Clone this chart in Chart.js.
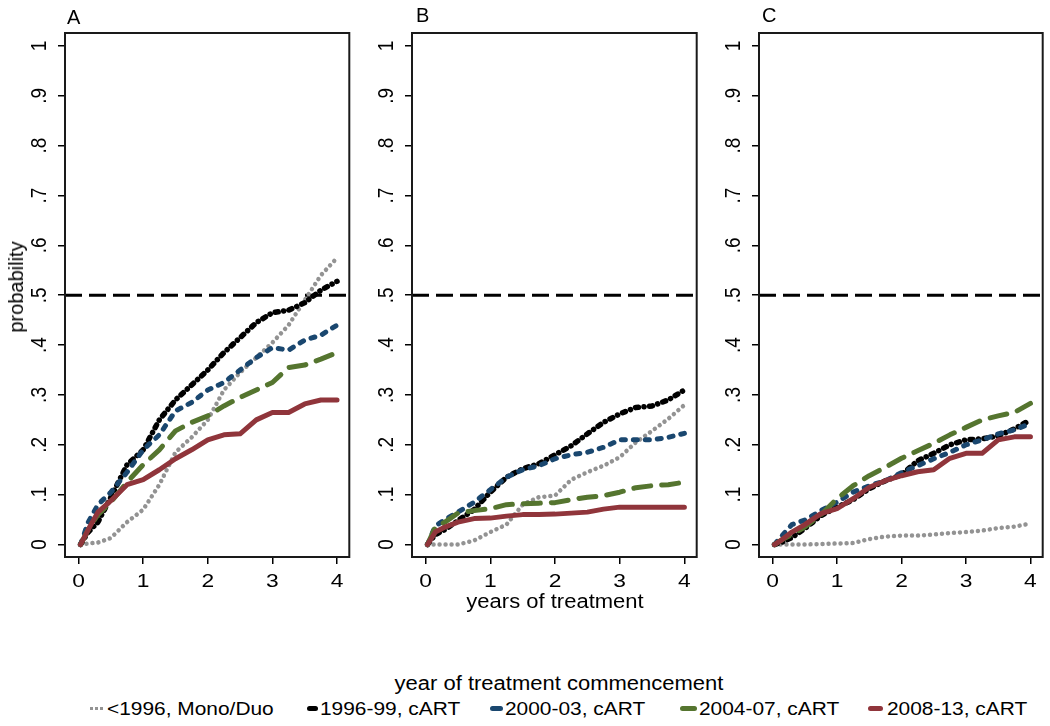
<!DOCTYPE html>
<html lang="en">
<head>
<meta charset="UTF-8">
<title>Cumulative probability by year of treatment commencement</title>
<script src="https://cdn.jsdelivr.net/npm/chart.js"></script>
<style>
  body { margin: 0; background: #fff; font-family: "Liberation Sans", Arial, sans-serif; color: #000; }
  #page { position: relative; width: 1050px; height: 726px; overflow: hidden; }
  #page canvas { position: absolute; top: 0; }
  .txt { position: absolute; white-space: nowrap; line-height: 1; }
  .panel { font-size: 20px; }
  .axt { font-size: 20px; transform: translateX(-50%) scaleX(1.1); }
  .leg { font-size: 19px; transform-origin: left center; transform: scaleX(1.1); }
  .sym { position: absolute; height: 5px; border-radius: 3px; }
</style>
</head>
<body>
<div id="page">
  <canvas id="chartA" width="352" height="620" style="left:3px"></canvas>
  <canvas id="chartB" width="352" height="620" style="left:350px"></canvas>
  <canvas id="chartC" width="352" height="620" style="left:697px"></canvas>

  <div class="txt panel" style="left:67px; top:7px">A</div>
  <div class="txt panel" style="left:416px; top:5px">B</div>
  <div class="txt panel" style="left:762px; top:5px">C</div>

  <div class="txt axt" style="left:16px; top:277px; transform: translate(-50%, 0) rotate(-90deg);">probability</div>
  <div class="txt axt" style="left:555px; top:591px">years of treatment</div>
  <div class="txt axt" style="left:559px; top:673px">year of treatment commencement</div>

  <div id="legend"></div>
</div>

<script>
  // time points (years since start of treatment)
  const t = [0.03, 0.15, 0.3, 0.5, 0.75, 1, 1.25, 1.5, 1.75, 2, 2.25, 2.5, 2.75, 3, 3.25, 3.5, 3.75, 4];

  // panel A
  const a_pre96 = [0, 0.002, 0.004, 0.013, 0.045, 0.07, 0.12, 0.185, 0.215, 0.25, 0.31, 0.345, 0.375, 0.405, 0.44, 0.49, 0.54, 0.575];
  const a_9699  = [0, 0.025, 0.045, 0.095, 0.16, 0.19, 0.25, 0.29, 0.32, 0.35, 0.385, 0.415, 0.445, 0.465, 0.47, 0.485, 0.51, 0.528];
  const a_0003  = [0, 0.045, 0.08, 0.105, 0.145, 0.19, 0.22, 0.268, 0.285, 0.31, 0.325, 0.35, 0.375, 0.395, 0.39, 0.41, 0.42, 0.44];
  const a_0407  = [0, 0.03, 0.06, 0.085, 0.125, 0.16, 0.19, 0.228, 0.245, 0.258, 0.278, 0.295, 0.31, 0.325, 0.355, 0.36, 0.372, 0.385];
  const a_0813  = [0, 0.03, 0.065, 0.088, 0.12, 0.13, 0.15, 0.172, 0.19, 0.21, 0.22, 0.222, 0.25, 0.265, 0.265, 0.282, 0.29, 0.29];

  // panel B
  const b_pre96 = [0, 0, 0, 0, 0.008, 0.025, 0.04, 0.08, 0.095, 0.098, 0.13, 0.145, 0.158, 0.175, 0.205, 0.228, 0.252, 0.28];
  const b_9699  = [0, 0.02, 0.03, 0.048, 0.07, 0.105, 0.135, 0.152, 0.162, 0.18, 0.198, 0.222, 0.245, 0.262, 0.275, 0.278, 0.29, 0.31];
  const b_0003  = [0, 0.037, 0.05, 0.065, 0.085, 0.11, 0.135, 0.15, 0.158, 0.172, 0.18, 0.185, 0.195, 0.21, 0.21, 0.21, 0.215, 0.223];
  const b_0407  = [0, 0.035, 0.045, 0.063, 0.068, 0.072, 0.08, 0.082, 0.083, 0.084, 0.09, 0.095, 0.098, 0.105, 0.114, 0.118, 0.12, 0.125];
  const b_0813  = [0, 0.025, 0.035, 0.045, 0.052, 0.053, 0.057, 0.06, 0.06, 0.061, 0.063, 0.065, 0.071, 0.075, 0.075, 0.075, 0.075, 0.075];

  // panel C
  const c_pre96 = [0, 0, 0, 0, 0.001, 0.002, 0.003, 0.011, 0.016, 0.018, 0.018, 0.02, 0.023, 0.025, 0.028, 0.033, 0.036, 0.042];
  const c_9699  = [0, 0.005, 0.014, 0.032, 0.058, 0.075, 0.09, 0.112, 0.128, 0.14, 0.168, 0.183, 0.2, 0.21, 0.212, 0.218, 0.232, 0.25];
  const c_0003  = [0, 0.018, 0.04, 0.049, 0.068, 0.085, 0.105, 0.118, 0.128, 0.144, 0.158, 0.172, 0.185, 0.2, 0.21, 0.222, 0.23, 0.243];
  const c_0407  = [0, 0.01, 0.02, 0.035, 0.06, 0.092, 0.118, 0.138, 0.155, 0.173, 0.188, 0.203, 0.22, 0.235, 0.25, 0.258, 0.265, 0.283];
  const c_0813  = [0, 0.01, 0.025, 0.04, 0.062, 0.072, 0.092, 0.115, 0.128, 0.138, 0.146, 0.15, 0.173, 0.183, 0.183, 0.21, 0.216, 0.216];

  const cohorts = ['<1996, Mono/Duo', '1996-99, cART', '2000-03, cART', '2004-07, cART', '2008-13, cART'];
  const xTicks = [0, 1, 2, 3, 4];
  const yTicks = [0, 0.1, 0.2, 0.3, 0.4, 0.5, 0.6, 0.7, 0.8, 0.9, 1];
  const yTickText = ['0', '.1', '.2', '.3', '.4', '.5', '.6', '.7', '.8', '.9', '1'];
  const refLevel = 0.5;

  // look of each cohort line
  const colors = ['#939393', '#000000', '#1a476f', '#55752f', '#90353b'];
  const widths = [4.5, 5.5, 5, 5, 5];
  const dashes = [[0.01, 6], [3, 5.5, 0.01, 5.5], [4, 8], [17, 11], []];

  const fontFam = '"Liberation Sans", Arial, sans-serif';
  const xMin = -0.21, xMax = 4.19, yMin = -0.025, yMax = 1.026;

  function pts(ys) {
    return t.map((x, i) => ({ x: x, y: ys[i] }));
  }

  // box, rotated y labels and stretched x labels (Stata look)
  const framePlugin = {
    id: 'frame',
    afterDraw(chart) {
      const { ctx, chartArea: a, scales } = chart;
      ctx.save();
      ctx.strokeStyle = '#1a1a1a';
      ctx.lineWidth = 2;
      ctx.strokeRect(a.left, a.top, a.right - a.left, a.bottom - a.top);
      ctx.fillStyle = '#000';
      ctx.font = '19px ' + fontFam;
      ctx.textAlign = 'center';
      ctx.textBaseline = 'middle';
      yTicks.forEach((v, i) => {
        ctx.save();
        ctx.translate(a.left - 25, scales.y.getPixelForValue(v));
        ctx.rotate(-Math.PI / 2);
        ctx.scale(1, 1.2);
        ctx.fillText(yTickText[i], 0, 0);
        ctx.restore();
      });
      xTicks.forEach(v => {
        ctx.save();
        ctx.translate(scales.x.getPixelForValue(v), a.bottom + 25);
        ctx.scale(1.2, 1);
        ctx.fillText(String(v), 0, 0);
        ctx.restore();
      });
      ctx.restore();
    }
  };

  function makeChart(id, series, padRight) {
    const datasets = series.map((ys, i) => ({
      label: cohorts[i],
      data: pts(ys),
      borderColor: colors[i],
      borderWidth: widths[i],
      borderDash: dashes[i],
      borderCapStyle: 'round',
      borderJoinStyle: 'round',
      pointRadius: 0,
      tension: 0,
      order: 4 - i
    }));
    datasets.push({
      label: 'ref',
      data: [{ x: xMin, y: refLevel }, { x: xMax, y: refLevel }],
      borderColor: '#000',
      borderWidth: 3,
      borderDash: [17, 7],
      pointRadius: 0,
      order: 10
    });

    const axisGrid = { display: true, drawOnChartArea: false, drawTicks: true, tickLength: 7, color: '#000', lineWidth: 1.5 };

    return new Chart(document.getElementById(id), {
      type: 'line',
      data: { datasets },
      options: {
        responsive: false,
        animation: false,
        layout: { padding: { left: 0, top: 33, right: padRight, bottom: 23 } },
        plugins: { legend: { display: false }, tooltip: { enabled: false } },
        scales: {
          x: {
            type: 'linear', min: xMin, max: xMax,
            grid: axisGrid,
            border: { display: false },
            ticks: { display: false },
            afterBuildTicks: s => { s.ticks = xTicks.map(v => ({ value: v })); },
            afterFit: s => { s.height = 40; s.paddingLeft = 0; s.paddingRight = 0; }
          },
          y: {
            type: 'linear', min: yMin, max: yMax,
            grid: axisGrid,
            border: { display: false },
            ticks: { display: false },
            afterBuildTicks: s => { s.ticks = yTicks.map(v => ({ value: v })); },
            afterFit: s => { s.width = 62; s.paddingTop = 0; s.paddingBottom = 0; }
          }
        }
      },
      plugins: [framePlugin]
    });
  }

  makeChart('chartA', [a_pre96, a_9699, a_0003, a_0407, a_0813], 5.7);
  makeChart('chartB', [b_pre96, b_9699, b_0003, b_0407, b_0813], 5.3);
  makeChart('chartC', [c_pre96, c_9699, c_0003, c_0407, c_0813], 6.3);

  // legend along the bottom
  const legSym = [89, 307, 490, 680, 868];
  const legSymW = [16, 11, 13, 17, 15];
  const legText = [107, 320, 505, 699, 887];
  const legend = document.getElementById('legend');
  cohorts.forEach((name, i) => {
    const s = document.createElement('div');
    s.className = 'sym';
    s.style.left = legSym[i] + 'px';
    s.style.top = '706px';
    s.style.width = legSymW[i] + 'px';
    if (i === 0) {
      s.style.background = 'radial-gradient(circle, ' + colors[0] + ' 45%, transparent 50%) 0 0 / 5px 5px repeat-x';
    } else {
      s.style.background = colors[i];
    }
    legend.appendChild(s);
    const l = document.createElement('div');
    l.className = 'txt leg';
    l.style.left = legText[i] + 'px';
    l.style.top = '699px';
    l.textContent = name;
    legend.appendChild(l);
  });
</script>
</body>
</html>
